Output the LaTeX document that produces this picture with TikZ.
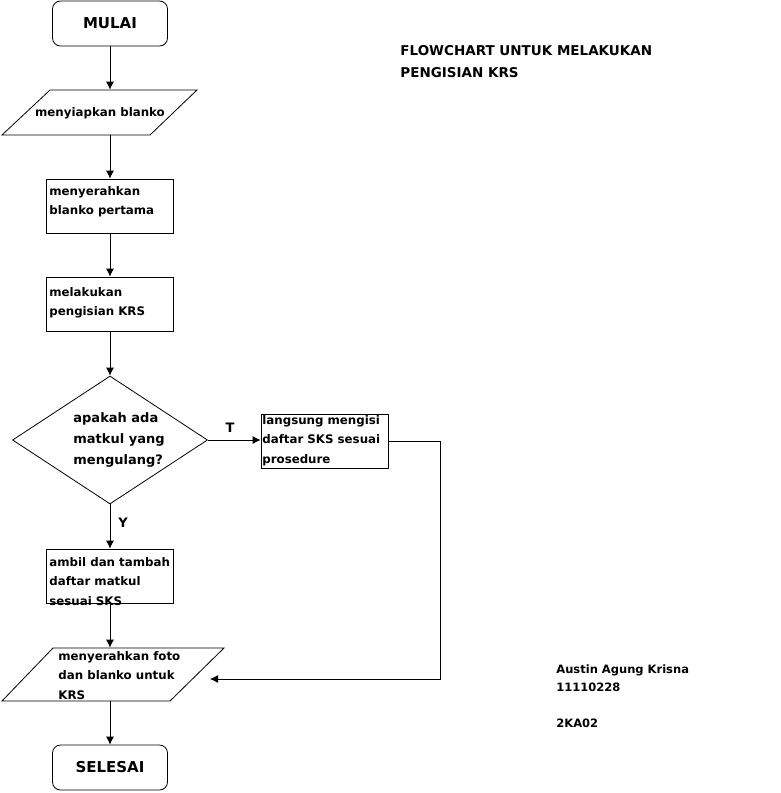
\documentclass[tikz,border=0pt]{standalone}
\usepackage{fontspec}
\setmainfont{DejaVu Sans}
\usetikzlibrary{arrows.meta,shapes.geometric}
\begin{document}
\begin{tikzpicture}[x=1pt,y=-1pt,
  line width=0.8pt,
  arr/.style={-{Latex[length=8pt,width=8pt]}},
  term/.style={draw, rounded corners=8pt, minimum width=115pt, minimum height=45pt, inner sep=0pt, font=\bfseries\fontsize{15}{17}\selectfont},
  stepbox/.style={draw, minimum width=127pt, minimum height=54pt, inner sep=0pt},
  hold/.style={inner sep=0pt, minimum width=10pt},
  txt/.style={font=\bfseries\fontsize{11.8}{19.5}\selectfont, align=left, inner sep=0pt},
  lbl/.style={font=\bfseries\fontsize{13}{14}\selectfont, inner sep=0pt},
  note/.style={font=\bfseries\fontsize{13.5}{14}\selectfont, inner sep=0pt, anchor=base west},
  auth/.style={font=\bfseries\fontsize{11.5}{14}\selectfont, inner sep=0pt, anchor=base west},
]
\useasboundingbox (0,0) rectangle (781,793);
\fill[white] (0,0) rectangle (781,793);

% terminals
\node[term] (start) at (110,23.5) {MULAI};
\node[term] (stop) at (110,767.5) {SELESAI};

% parallelogram 1
\node[hold, minimum height=45pt] (p1) at (110,112.5) {};
\draw (50,90) -- (197,90) -- (150,135) -- (2,135) -- cycle;
\node[txt] (p1t) at (100,113) {menyiapkan blanko};

% boxes
\node[stepbox] (b2) at (110,206) {};
\node[txt, anchor=north west] (b2t) at (49,186) {menyerahkan\\blanko pertama};

\node[stepbox] (b3) at (110,304) {};
\node[txt, anchor=north west] (b3t) at (49,287) {melakukan\\pengisian KRS};

% decision
\node[draw, diamond, minimum width=195pt, minimum height=128pt, inner sep=0pt, aspect=1.52] (d) at (110,440) {};
\node[txt, font=\bfseries\fontsize{13}{21}\selectfont, anchor=west] (dt) at (73,440) {apakah ada\\matkul yang\\mengulang?};

\node[stepbox] (bt) at (324.5,441) {};
\node[txt, anchor=north west] (btt) at (262,415) {langsung mengisi\\daftar SKS sesuai\\prosedure};

\node[stepbox] (by) at (110,576) {};
\node[txt, anchor=north west] (byt) at (49,557) {ambil dan tambah\\daftar matkul\\sesuai SKS};

% parallelogram 2
\node[hold, minimum height=53pt] (p2) at (110,674.5) {};
\draw (53,648) -- (224,648) -- (170,701) -- (2,701) -- cycle;
\node[txt, anchor=north west] (p2t) at (58,651) {menyerahkan foto\\dan blanko untuk\\KRS};

% connectors
\draw[arr] (start) -- (p1);
\draw[arr] (p1) -- (b2);
\draw[arr] (b2) -- (b3);
\draw[arr] (b3) -- (d);
\draw[arr] (d) -- (by);
\draw[arr] (d.east) -- (d.east -| bt.west);
\draw[arr] (by) -- (p2);
\draw[arr] (p2) -- (stop);
\coordinate (in2) at (210,679);
\draw[arr] (bt.east) -- ++(52,0) |- (in2);

% labels
\node[lbl] (lt) at (230,428) {T};
\node[lbl] (ly) at (123,523) {Y};

% title and author
\node[note] (t1) at (400,55) {FLOWCHART UNTUK MELAKUKAN};
\node[note] (t2) at (400,77) {PENGISIAN KRS};
\node[auth] (a1) at (556,673) {Austin Agung Krisna};
\node[auth] (a2) at (556,691) {11110228};
\node[auth] (a3) at (556,727) {2KA02};
\end{tikzpicture}
\end{document}
